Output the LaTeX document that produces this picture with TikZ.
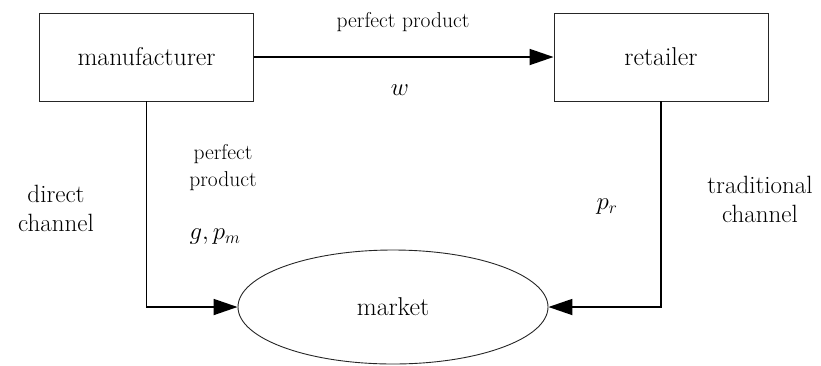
\documentclass[tikz,border=0pt]{standalone}
\usetikzlibrary{arrows.meta,shapes.geometric}
\begin{document}
\begin{tikzpicture}[x=1pt,y=-1pt,
  box/.style={draw=black!85, line width=0.9pt, minimum width=214pt, minimum height=88pt, inner sep=0pt, font=\fontsize{25.8}{30}\selectfont},
  mkt/.style={draw=black!85, ellipse, line width=0.9pt, minimum width=310pt, minimum height=114pt, inner sep=0pt, font=\fontsize{25.8}{30}\selectfont},
  conn/.style={line width=1.8pt, -{Triangle[length=24pt,width=16pt]}},
  lbl/.style={font=\fontsize{25}{29}\selectfont, align=center, inner sep=0pt},
  small/.style={font=\fontsize{21.5}{27}\selectfont, align=center, inner sep=0pt},
  mth/.style={font=\fontsize{27}{30}\selectfont, inner sep=0pt}]
\useasboundingbox (0,0) rectangle (821,365);
\node[box] (man) at (146.5,57) {manufacturer};
\node[box] (ret) at (661,57) {retailer};
\node[mkt] (mk) at (393,307) {market};
\draw[conn] (man.east) -- (ret.west);
\draw[conn] (man.south) |- (mk.west);
\draw[conn] (ret.south) |- (mk.east);
\node[small] (pp1) at (403,22) {perfect product};
\node[mth] (w) at (400,90) {$w$};
\node[small] (pp2) at (223,168) {perfect\\product};
\node[mth] (gpm) at (215,237) {$g, p_m$};
\node[mth] (pr) at (607,207) {$p_r$};
\node[lbl] (dc) at (56,208) {direct\\channel};
\node[lbl] (tc) at (760,199) {traditional\\channel};
\end{tikzpicture}
\end{document}
